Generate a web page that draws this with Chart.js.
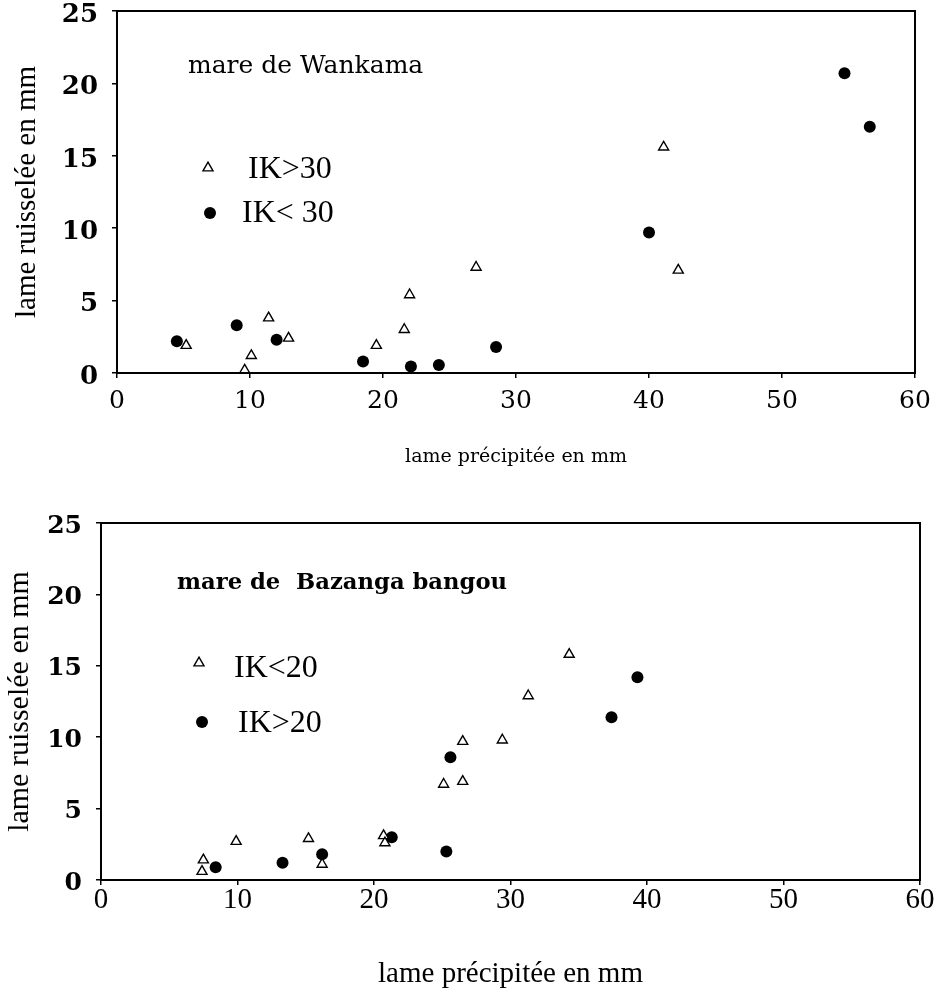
<!DOCTYPE html>
<html>
<head>
<meta charset="utf-8">
<script src="https://cdn.jsdelivr.net/npm/chart.js@4/dist/chart.umd.min.js"></script>
<style>
  html, body { margin: 0; padding: 0; background: #fff; }
  #wrap { position: relative; width: 942px; height: 997px; background: #fff; }
  canvas { position: absolute; left: 0; }
</style>
</head>
<body>
<div id="wrap">
  <canvas id="wankama" width="942" height="490" style="top:0px"></canvas>
  <canvas id="bazanga" width="942" height="507" style="top:490px"></canvas>
</div>
<script>
// Axis ticks (mm)
const xTicks = [0, 10, 20, 30, 40, 50, 60];
const yTicks = [0, 5, 10, 15, 20, 25];

// Mare de Wankama: rainfall depth (x) vs runoff depth (y), in mm
const wkHighX = [5.2, 9.6, 10.1, 11.4, 12.9, 19.5, 21.6, 22.0, 27.0, 41.1, 42.2];
const wkHighY = [1.9, 0.2, 1.2, 3.8, 2.4, 1.9, 3.0, 5.4, 7.3, 15.6, 7.1];
const wkLowX  = [4.5, 9.0, 12.0, 18.5, 22.1, 24.2, 28.5, 40.0, 54.7, 56.6];
const wkLowY  = [2.2, 3.3, 2.3, 0.8, 0.45, 0.55, 1.8, 9.7, 20.7, 17.0];

// Mare de Bazanga bangou: rainfall depth (x) vs runoff depth (y), in mm
const bzLowX  = [7.5, 7.4, 9.9, 15.2, 16.2, 20.7, 20.8, 25.1, 26.5, 26.5, 29.4, 31.3, 34.3];
const bzLowY  = [1.4, 0.6, 2.7, 2.9, 1.1, 3.1, 2.6, 6.7, 9.7, 6.9, 9.8, 12.9, 15.8];
const bzHighX = [8.4, 13.3, 16.2, 21.3, 25.3, 25.6, 37.4, 39.3];
const bzHighY = [0.9, 1.2, 1.8, 3.0, 2.0, 8.6, 11.4, 14.2];

// Series labels
const wkLabels = ['IK>30', 'IK< 30'];
const bzLabels = ['IK<20', 'IK>20'];
const wkTitle = 'mare de Wankama';
const bzTitle = 'mare de  Bazanga bangou';
const xTitle = 'lame précipitée en mm';
const yTitle = 'lame ruisselée en mm';

const toPoints = (xs, ys) => xs.map((x, i) => ({ x: x, y: ys[i] }));

const triangleStyle = {
  pointStyle: 'triangle', pointRadius: 5.8, pointBorderWidth: 1.4,
  pointBackgroundColor: '#ffffff', pointBorderColor: '#000000'
};
const dotStyle = {
  pointStyle: 'circle', pointRadius: 6, pointBorderWidth: 0,
  pointBackgroundColor: '#000000', pointBorderColor: '#000000'
};

// Frame around the plotting area
const framePlugin = {
  id: 'frame',
  afterDatasetsDraw(chart) {
    const a = chart.chartArea, ctx = chart.ctx;
    ctx.save();
    ctx.strokeStyle = '#000';
    ctx.lineWidth = 2;
    ctx.strokeRect(a.left, a.top, a.right - a.left, a.bottom - a.top);
    ctx.restore();
  }
};

// In-plot caption and legend, positioned relative to the plotting area
const notesPlugin = {
  id: 'notes',
  afterDraw(chart, args, opts) {
    const a = chart.chartArea, ctx = chart.ctx;
    ctx.save();
    ctx.fillStyle = '#000';
    ctx.textBaseline = 'alphabetic';
    ctx.textAlign = 'left';
    ctx.font = opts.titleFont;
    ctx.fillText(opts.title, a.left + opts.titleDx, a.top + opts.titleDy);
    opts.items.forEach((it, i) => {
      const ds = chart.data.datasets[i];
      ctx.save();
      ctx.fillStyle = ds.pointBackgroundColor;
      ctx.strokeStyle = ds.pointBorderColor;
      ctx.lineWidth = ds.pointBorderWidth;
      Chart.helpers.drawPoint(ctx, {
        pointStyle: ds.pointStyle, radius: ds.pointRadius,
        borderWidth: ds.pointBorderWidth, rotation: 0
      }, a.left + it.mx, a.top + it.my);
      ctx.restore();
      ctx.fillStyle = '#000';
      ctx.font = opts.itemFont;
      ctx.fillText(ds.label, a.left + it.tx, a.top + it.ty);
    });
    ctx.restore();
  }
};

function makeChart(id, cfg) {
  return new Chart(document.getElementById(id), {
    type: 'scatter',
    data: {
      datasets: [
        Object.assign({ label: cfg.labels[0], data: toPoints(cfg.ax, cfg.ay), clip: false }, triangleStyle),
        Object.assign({ label: cfg.labels[1], data: toPoints(cfg.bx, cfg.by), clip: false }, dotStyle)
      ]
    },
    options: {
      responsive: false,
      animation: false,
      devicePixelRatio: 1,
      layout: { padding: cfg.padding },
      plugins: {
        legend: { display: false },
        tooltip: { enabled: false },
        notes: cfg.notes
      },
      scales: {
        x: {
          type: 'linear', min: 0, max: 60,
          afterBuildTicks: s => { s.ticks = xTicks.map(v => ({ value: v })); },
          afterFit: s => { s.height = cfg.xHeight; s.paddingLeft = 0; s.paddingRight = 0; },
          border: { display: false },
          grid: { display: true, drawOnChartArea: false, drawTicks: true, tickLength: 5, color: '#000', lineWidth: 1.5 },
          ticks: { color: '#000', font: cfg.xTickFont, padding: cfg.xTickPad, maxRotation: 0, autoSkip: false },
          title: { display: true, text: xTitle, color: '#000', font: cfg.xTitleFont, padding: { top: 0, bottom: cfg.xTitlePad } }
        },
        y: {
          type: 'linear', min: 0, max: 25,
          afterBuildTicks: s => { s.ticks = yTicks.map(v => ({ value: v })); },
          afterFit: s => { s.width = cfg.yWidth; s.paddingTop = 0; s.paddingBottom = 0; },
          border: { display: false },
          grid: { display: true, drawOnChartArea: false, drawTicks: true, tickLength: 5, color: '#000', lineWidth: 1.5 },
          ticks: { color: '#000', font: cfg.yTickFont, padding: cfg.yTickPad, labelOffset: cfg.yLabelOffset },
          title: { display: true, text: yTitle, color: '#000', font: cfg.yTitleFont, padding: { top: cfg.yTitlePad, bottom: 0 } }
        }
      }
    },
    plugins: [framePlugin, notesPlugin]
  });
}

makeChart('wankama', {
  labels: wkLabels,
  ax: wkHighX, ay: wkHighY, bx: wkLowX, by: wkLowY,
  padding: { top: 11, right: 27, left: 0, bottom: 0 },
  xHeight: 117, yWidth: 117,
  xTickFont: { family: 'DejaVu Serif', size: 25, lineHeight: 1 }, xTickPad: 11,
  yTickFont: { family: 'DejaVu Serif', size: 26, weight: 'bold', lineHeight: 1 }, yTickPad: 14, yLabelOffset: 4,
  xTitleFont: { family: 'DejaVu Serif', size: 19, lineHeight: 1.2 }, xTitlePad: 22,
  yTitleFont: { family: 'Liberation Serif', size: 29, lineHeight: 1.2 }, yTitlePad: 10,
  notes: {
    title: wkTitle, titleFont: '25px "DejaVu Serif"', titleDx: 71, titleDy: 62,
    itemFont: '32px "Liberation Serif"',
    items: [
      { mx: 91, my: 157, tx: 131, ty: 167 },
      { mx: 93, my: 202, tx: 125, ty: 211 }
    ]
  }
});

makeChart('bazanga', {
  labels: bzLabels,
  ax: bzLowX, ay: bzLowY, bx: bzHighX, by: bzHighY,
  padding: { top: 33, right: 22, left: 0, bottom: 0 },
  xHeight: 117, yWidth: 101,
  xTickFont: { family: 'Liberation Serif', size: 29, lineHeight: 1 }, xTickPad: 1,
  yTickFont: { family: 'DejaVu Serif', size: 25, weight: 'bold', lineHeight: 1 }, yTickPad: 14, yLabelOffset: 3,
  xTitleFont: { family: 'Liberation Serif', size: 29, lineHeight: 1.2 }, xTitlePad: 5,
  yTitleFont: { family: 'Liberation Serif', size: 30, lineHeight: 1.2 }, yTitlePad: 2,
  notes: {
    title: bzTitle, titleFont: 'bold 22.7px "DejaVu Serif"', titleDx: 76, titleDy: 66,
    itemFont: '32px "Liberation Serif"',
    items: [
      { mx: 98, my: 140, tx: 133, ty: 154 },
      { mx: 101, my: 199, tx: 137, ty: 209 }
    ]
  }
});
</script>
</body>
</html>
